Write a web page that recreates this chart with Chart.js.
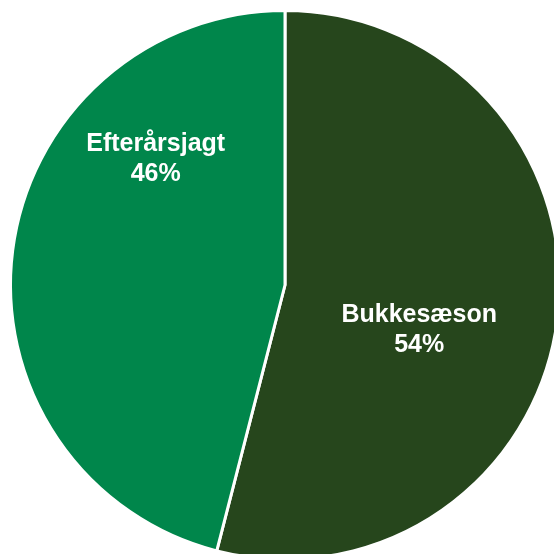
<!DOCTYPE html>
<html>
<head>
<meta charset="utf-8">
<script src="https://cdn.jsdelivr.net/npm/chart.js@4/dist/chart.umd.min.js"></script>
<style>
  html, body { margin: 0; padding: 0; background: #ffffff; overflow: hidden; width: 554px; height: 554px; }
  #wrap { position: absolute; left: 0; top: 0; width: 570px; height: 570px; }
</style>
</head>
<body>
<div id="wrap"><canvas id="c" width="570" height="570"></canvas></div>
<script>
const categories = ["Bukkesæson", "Efterårsjagt"];
const values = [54, 46];
const valueLabels = ["54%", "46%"];
const sliceColors = ["#26461c", "#00864b"];

// label block centres, relative to pie centre, in units of the outer radius
const labelOffsets = [[0.489, 0.164], [-0.471, -0.460]];

const labelPlugin = {
  id: "sliceLabels",
  afterDatasetsDraw(chart) {
    const ctx = chart.ctx;
    const meta = chart.getDatasetMeta(0);
    ctx.save();
    ctx.fillStyle = "#ffffff";
    ctx.font = "bold 25px 'Liberation Sans', Arial, sans-serif";
    ctx.textAlign = "center";
    ctx.textBaseline = "middle";
    meta.data.forEach((arc, i) => {
      const r = arc.outerRadius;
      const cx = arc.x + labelOffsets[i][0] * r;
      const cy = arc.y + labelOffsets[i][1] * r;
      ctx.fillText(categories[i], cx, cy - 15);
      ctx.fillText(valueLabels[i], cx, cy + 15);
    });
    ctx.restore();
  }
};

new Chart(document.getElementById("c"), {
  type: "pie",
  data: {
    labels: categories,
    datasets: [{
      data: values,
      backgroundColor: sliceColors,
      borderColor: "#ffffff",
      borderWidth: 3
    }]
  },
  options: {
    responsive: false,
    animation: false,
    layout: { padding: 9 },
    plugins: { legend: { display: false }, tooltip: { enabled: false } }
  },
  plugins: [labelPlugin]
});
</script>
</body>
</html>
